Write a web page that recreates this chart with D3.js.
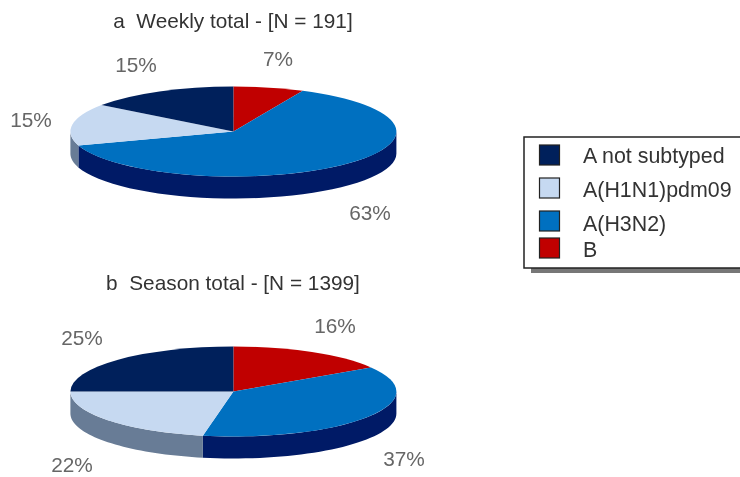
<!DOCTYPE html>
<html>
<head>
<meta charset="utf-8">
<script src="https://cdn.jsdelivr.net/npm/d3@7"></script>
<style>
  html, body { margin: 0; padding: 0; background: #fff; overflow: hidden; }
  svg { display: block; filter: blur(0.6px); }
  text { font-family: "Liberation Sans", Arial, sans-serif; font-size: 20.8px; white-space: pre; }
  .legend-label { font-size: 21.4px; }
</style>
</head>
<body>
<div id="chart"></div>
<script>
// data
const categories = ["B", "A(H3N2)", "A(H1N1)pdm09", "A not subtyped"];
const weeklyValues = [7, 63, 15, 15];
const seasonValues = [16, 37, 22, 25];
const weeklyTitle = "a  Weekly total - [N = 191]";
const seasonTitle = "b  Season total - [N = 1399]";
const legendOrder = ["A not subtyped", "A(H1N1)pdm09", "A(H3N2)", "B"];

const topColor = d3.scaleOrdinal().domain(categories)
  .range(["#c00000", "#0070c0", "#c6d9f1", "#00205b"]);
const wallColor = d3.scaleOrdinal().domain(categories)
  .range(["#7a0000", "#001a66", "#687c96", "#00205b"]);

const width = 740, height = 477;
const svg = d3.select("#chart").append("svg")
  .attr("width", width).attr("height", height);

const cx = 233.4, rx = 163, ry = 45, depth = 22;

const pie = d3.pie().sort(null).value(d => d.value);
const arc = d3.arc().innerRadius(0).outerRadius(rx);

// side wall of a slice, only the part that faces the viewer (lower half)
function wallPath(a0, a1) {
  const from = Math.max(a0, Math.PI / 2), to = Math.min(a1, Math.PI * 1.5);
  if (from >= to) return null;
  const steps = d3.range(0, 41).map(i => from + (to - from) * i / 40);
  const px = a => rx * Math.sin(a), py = a => -ry * Math.cos(a);
  const line = d3.line();
  const front = steps.map(a => [px(a), py(a)]);
  const back = steps.slice().reverse().map(a => [px(a), py(a) + depth]);
  return line(front.concat(back)) + "Z";
}

function drawPie(values, title, cy, titleY, labels) {
  const data = categories.map((c, i) => ({ name: c, value: values[i] }));
  const arcs = pie(data);
  const g = svg.append("g").attr("transform", `translate(${cx},${cy})`);

  g.selectAll("path.wall").data(arcs).join("path")
    .attr("class", "wall")
    .attr("d", d => wallPath(d.startAngle, d.endAngle))
    .attr("fill", d => wallColor(d.data.name));

  g.append("g").attr("transform", `scale(1,${ry / rx})`)
    .selectAll("path.top").data(arcs).join("path")
    .attr("class", "top")
    .attr("d", arc)
    .attr("fill", d => topColor(d.data.name));

  svg.append("text").attr("x", 233).attr("y", titleY)
    .attr("text-anchor", "middle").attr("fill", "#333").text(title);

  svg.selectAll(null).data(arcs).join("text")
    .attr("x", (d, i) => labels[i][0]).attr("y", (d, i) => labels[i][1])
    .attr("text-anchor", "middle").attr("fill", "#666")
    .text(d => d.data.value + "%");
}

drawPie(weeklyValues, weeklyTitle, 131.5, 28,
  [[278, 66], [370, 220], [31, 127], [136, 72]]);
drawPie(seasonValues, seasonTitle, 391.5, 290,
  [[335, 333], [404, 466], [72, 472], [82, 345]]);

// legend
const legendY = [145, 178, 211, 238];
const legendBaseline = [163, 197, 231, 257];
const legend = svg.append("g");
legend.append("rect").attr("x", 531).attr("y", 142).attr("width", 220).attr("height", 131)
  .attr("fill", "#777");
legend.append("rect").attr("x", 524).attr("y", 137).attr("width", 226).attr("height", 131)
  .attr("fill", "#fff").attr("stroke", "#222").attr("stroke-width", 1.5);
legend.selectAll("rect.swatch").data(legendOrder).join("rect")
  .attr("class", "swatch")
  .attr("x", 539.5).attr("y", (d, i) => legendY[i])
  .attr("width", 20).attr("height", 20)
  .attr("fill", d => topColor(d)).attr("stroke", "#222").attr("stroke-width", 1.2);
legend.selectAll("text").data(legendOrder).join("text")
  .attr("class", "legend-label")
  .attr("x", 583).attr("y", (d, i) => legendBaseline[i])
  .attr("fill", "#333").text(d => d);
</script>
</body>
</html>
